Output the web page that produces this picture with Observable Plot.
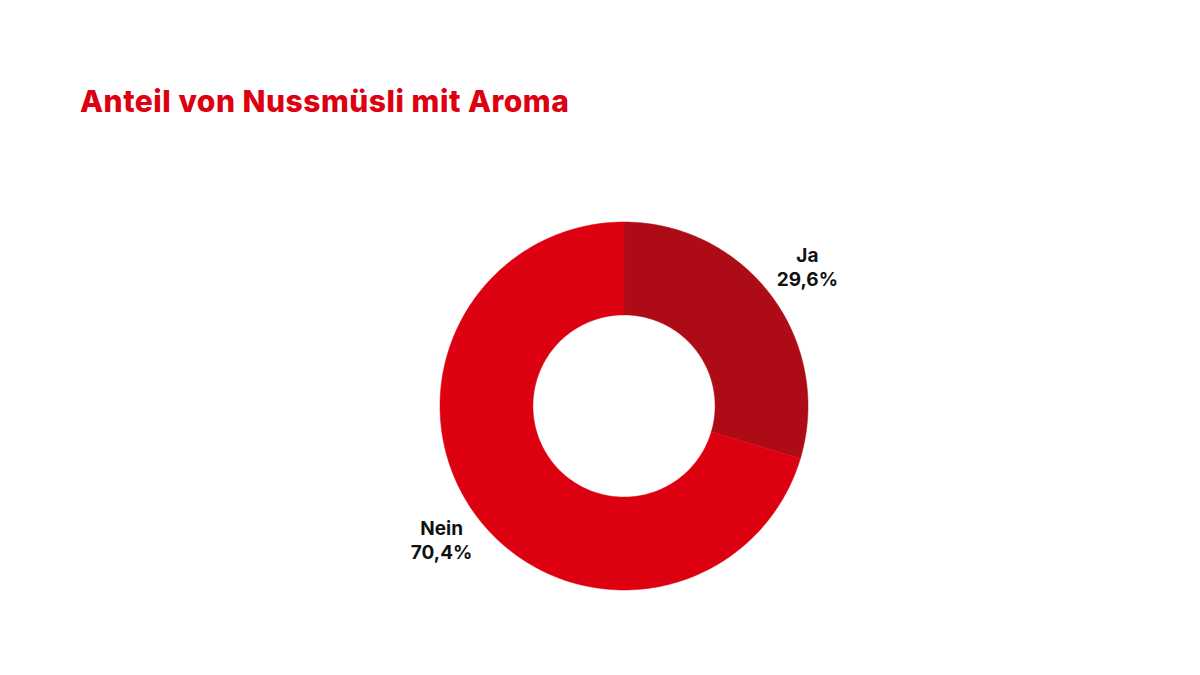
<!DOCTYPE html>
<html>
<head>
<meta charset="utf-8">
<script src="https://cdn.jsdelivr.net/npm/d3@7"></script>
<script src="https://cdn.jsdelivr.net/npm/@observablehq/plot@0.6"></script>
<style>
  html, body { margin: 0; padding: 0; background: #fff; }
  #wrap { position: relative; width: 1200px; height: 675px; overflow: hidden; }
  #title { position: absolute; left: 80px; top: 83px; font-family: Inter, "Noto Sans", sans-serif; font-weight: 800; font-size: 30px; letter-spacing: 0.5px; color: #DC0010; white-space: nowrap; }
  #chart { position: absolute; left: 0; top: 145px; }
</style>
</head>
<body>
<div id="wrap">
  <div id="title">Anteil von Nussmüsli mit Aroma</div>
  <div id="chart"></div>
</div>
<script>
const categories = ["Ja", "Nein"];
const values = [29.6, 70.4];
const valueLabels = ["29,6%", "70,4%"];
const colors = ["#AD0C17", "#DC0010"];

const innerRatio = 0.495;
const labelRadius = 1.24;

const pie = d3.pie().sort(null).value(d => d.value);
const arcs = pie(categories.map((c, i) => ({category: c, value: values[i], label: valueLabels[i]})));

const ringPoints = [];
for (const a of arcs) {
  const n = 200;
  for (let k = 0; k <= n; k++) {
    const t = a.startAngle + (a.endAngle - a.startAngle) * k / n;
    ringPoints.push({
      category: a.data.category,
      x1: Math.sin(t), y1: Math.cos(t),
      x2: innerRatio * Math.sin(t), y2: innerRatio * Math.cos(t)
    });
  }
}
const labelData = arcs.map(a => {
  const m = (a.startAngle + a.endAngle) / 2;
  return {x: labelRadius * Math.sin(m), y: labelRadius * Math.cos(m), text: a.data.category + "\n" + a.data.label};
});

const W = 1200, H = 530, cx = 624, cy = 261, R = 184;
const chart = Plot.plot({
  width: W, height: H,
  margin: 0,
  x: {domain: [-1, 1], range: [cx - R, cx + R], axis: null},
  y: {domain: [-1, 1], range: [cy + R, cy - R], axis: null},
  color: {domain: categories, range: colors},
  style: {background: "transparent", overflow: "visible"},
  marks: [
    Plot.area(ringPoints, {x1: "x1", y1: "y1", x2: "x2", y2: "y2", z: "category", fill: "category", curve: "linear", stroke: "category", strokeWidth: 0.5}),
    Plot.text(labelData, {x: "x", y: "y", dy: -4, text: "text", fontSize: 19, fontWeight: "bold", fill: "#111", lineHeight: 1.26, fontFamily: "Inter, 'Noto Sans', sans-serif", textAnchor: "middle"})
  ]
});
document.getElementById("chart").appendChild(chart);
</script>
</body>
</html>
